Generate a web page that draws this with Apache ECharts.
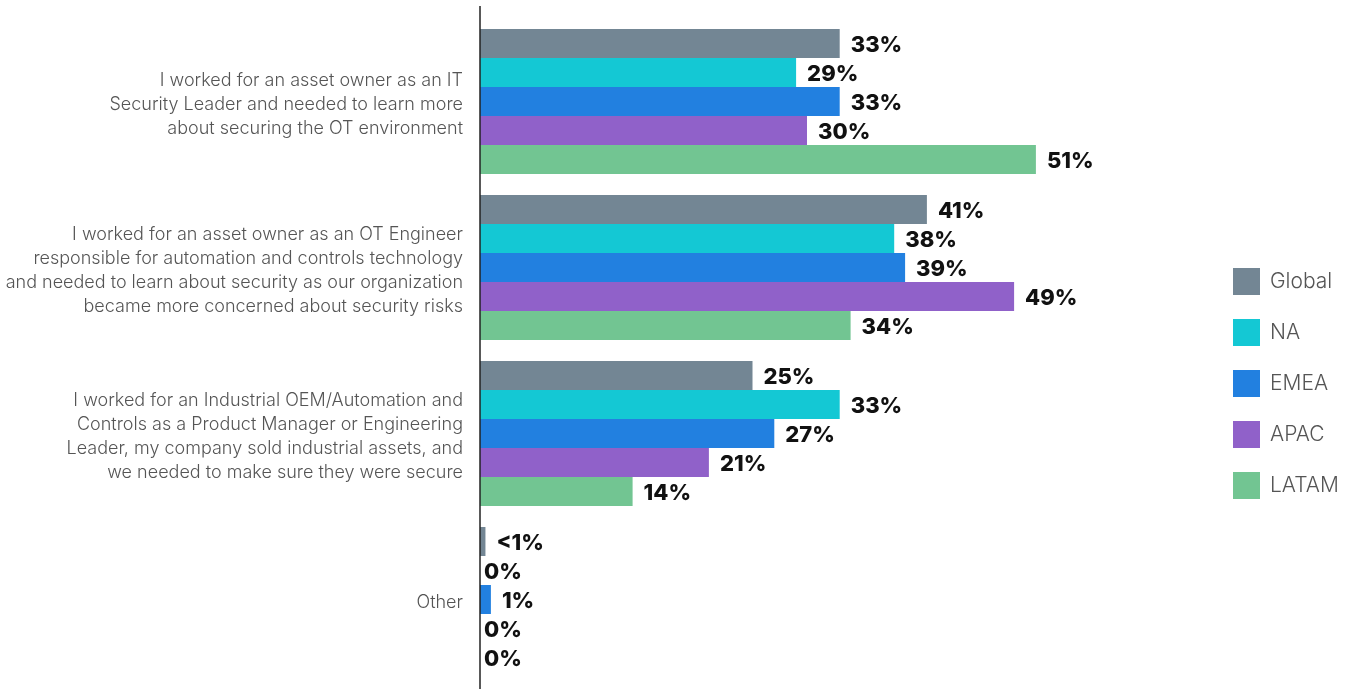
<!DOCTYPE html>
<html>
<head>
<meta charset="utf-8">
<script src="https://cdn.jsdelivr.net/npm/echarts@6/dist/echarts.min.js"></script>
<style>
  html, body { margin: 0; padding: 0; background: #fff; }
  #chart { width: 1351px; height: 689px; }
</style>
</head>
<body>
<div id="chart"></div>
<script>
// Survey answers (one category per row) and share per region, in percent
const categories = [
  'I worked for an asset owner as an IT\nSecurity Leader and needed to learn more\nabout securing the OT environment',
  'I worked for an asset owner as an OT Engineer\nresponsible for automation and controls technology\nand needed to learn about security as our organization\nbecame more concerned about security risks',
  'I worked for an Industrial OEM/Automation and\nControls as a Product Manager or Engineering\nLeader, my company sold industrial assets, and\nwe needed to make sure they were secure',
  'Other'
];
const regions = ['Global', 'NA', 'EMEA', 'APAC', 'LATAM'];
const globalValues = [33, 41, 25, 0.5];
const naValues = [29, 38, 33, 0];
const emeaValues = [33, 39, 27, 1];
const apacValues = [30, 49, 21, 0];
const latamValues = [51, 34, 14, 0];
// Label text where the printed value differs from a plain number
const globalLabels = ['33%', '41%', '25%', '<1%'];

const seriesValues = [globalValues, naValues, emeaValues, apacValues, latamValues];
const colors = ['#738694', '#14c8d4', '#2280e0', '#9061c9', '#72c592'];

const chart = echarts.init(document.getElementById('chart'));

const series = regions.map((name, i) => ({
  name: name,
  type: 'bar',
  // zero-length bars keep their label tight against the axis
  data: seriesValues[i].map(v => (v === 0 ? { value: v, label: { distance: 4 } } : v)),
  barWidth: 29,
  barGap: '0%',
  itemStyle: { color: colors[i] },
  label: {
    show: true,
    position: 'right',
    distance: 11,
    offset: [0, 2],
    color: '#111',
    fontFamily: 'Inter',
    fontWeight: 800,
    fontSize: 22,
    formatter: p => (i === 0 ? globalLabels[p.dataIndex] : p.value + '%')
  }
}));

chart.setOption({
  animation: false,
  textStyle: { fontFamily: 'Inter' },
  legend: {
    orient: 'vertical',
    left: 1233,
    top: 268,
    padding: 0,
    itemWidth: 27,
    itemHeight: 27,
    itemGap: 24,
    icon: 'rect',
    data: regions,
    textStyle: { fontSize: 21, color: '#555', fontFamily: 'Inter', fontWeight: 300, padding: [0, 0, 0, 5] }
  },
  // vertical baseline spanning the full plot height
  graphic: [{
    type: 'line',
    shape: { x1: 480, y1: 6, x2: 480, y2: 689 },
    style: { stroke: '#222', lineWidth: 1.5 },
    z: 10
  }],
  grid: { left: 480, top: 18.5, width: 654, height: 664, containLabel: false },
  xAxis: {
    type: 'value',
    min: 0,
    max: 60,
    show: false
  },
  yAxis: {
    type: 'category',
    data: categories,
    inverse: true,
    axisLine: { show: false },
    axisTick: { show: false },
    axisLabel: {
      margin: 17,
      fontSize: 18,
      lineHeight: 24,
      color: '#555',
      fontFamily: 'Inter',
      fontWeight: 300,
      align: 'right',
      // a thin empty first line nudges the text block slightly downward
      formatter: v => '{gap|}\n' + v,
      rich: {
        gap: { height: 7, lineHeight: 7 }
      }
    }
  },
  series: series
});
</script>
</body>
</html>
